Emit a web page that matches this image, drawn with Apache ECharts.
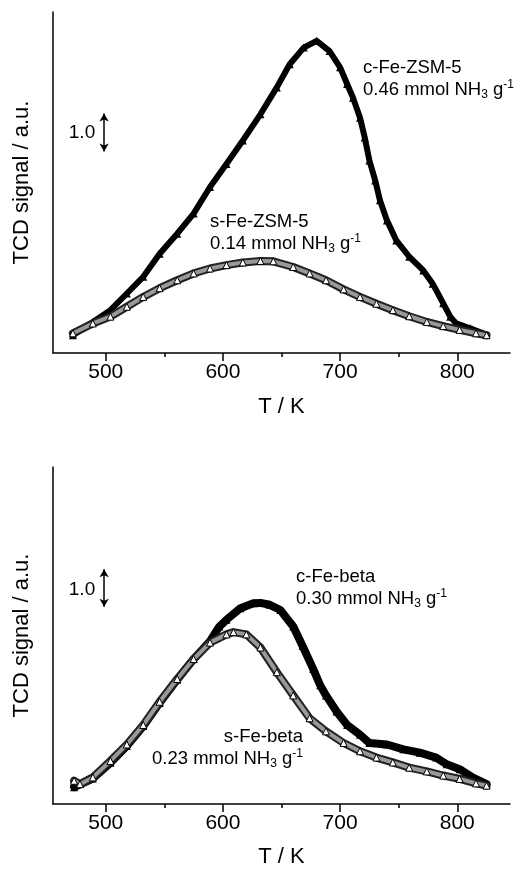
<!DOCTYPE html>
<html>
<head>
<meta charset="utf-8">
<script src="https://cdn.jsdelivr.net/npm/echarts@6/dist/echarts.min.js"></script>
<style>
  html, body { margin: 0; padding: 0; background: #fff; }
  #chart { width: 520px; height: 869px; }
</style>
</head>
<body>
<div id="chart"></div>
<script>
// ---------- data ----------
const xTicks = [500, 600, 700, 800];
const xMinorTicks = [550, 650, 750];

// upper panel: c-Fe-ZSM-5 (filled triangles)
const tZsmC = [472, 489, 504, 518, 532, 546, 561, 575, 589, 603, 617, 632, 646, 657, 669, 680, 691, 700, 706, 711, 717, 721, 725, 730, 734, 740, 748, 759, 771, 779, 788, 794, 799, 811, 822];
const sZsmC = [0.47, 0.82, 1.13, 1.57, 2.01, 2.62, 3.15, 3.68, 4.38, 4.99, 5.61, 6.30, 7.01, 7.62, 8.06, 8.24, 7.97, 7.54, 7.10, 6.74, 6.21, 5.69, 5.08, 4.55, 4.03, 3.50, 2.97, 2.54, 2.18, 1.83, 1.31, 0.96, 0.78, 0.65, 0.52];

// upper panel: s-Fe-ZSM-5 (open triangles)
const tZsmS = [472, 489, 504, 518, 532, 546, 561, 575, 589, 603, 617, 632, 643, 660, 674, 688, 703, 717, 731, 745, 759, 774, 788, 802, 816, 825];
const sZsmS = [0.52, 0.78, 0.96, 1.22, 1.48, 1.71, 1.92, 2.10, 2.23, 2.32, 2.39, 2.43, 2.42, 2.27, 2.10, 1.92, 1.68, 1.48, 1.30, 1.13, 0.97, 0.82, 0.71, 0.61, 0.52, 0.47];

// lower panel: c-Fe-beta (filled triangles)
const tBetaC = [473, 489, 504, 518, 532, 546, 561, 575, 589, 597, 603, 615, 626, 632, 640, 649, 660, 668, 677, 683, 688, 697, 706, 717, 725, 740, 754, 768, 782, 791, 802, 813, 825];
const sBetaC = [0.45, 0.68, 1.10, 1.55, 2.08, 2.70, 3.32, 3.87, 4.35, 4.74, 4.92, 5.23, 5.36, 5.37, 5.32, 5.18, 4.74, 4.22, 3.61, 3.17, 2.90, 2.47, 2.11, 1.85, 1.63, 1.59, 1.46, 1.37, 1.24, 1.06, 0.93, 0.71, 0.53];

// lower panel: s-Fe-beta (open triangles)
const tBetaS = [473, 478, 489, 504, 518, 532, 546, 561, 575, 589, 603, 609, 620, 632, 646, 660, 674, 688, 703, 717, 731, 745, 759, 774, 788, 802, 816, 825];
const sBetaS = [0.62, 0.53, 0.71, 1.15, 1.59, 2.11, 2.73, 3.34, 3.87, 4.31, 4.53, 4.59, 4.53, 4.18, 3.52, 2.90, 2.29, 1.94, 1.63, 1.41, 1.24, 1.11, 0.97, 0.87, 0.76, 0.67, 0.55, 0.49];

// 1.0 a.u. scale bars
const scaleBarT = 498.6;
const scaleBarTop = [5.32, 6.32];
const scaleBarBottom = [5.27, 6.27];

// ---------- chart ----------
const FONT = '"Liberation Sans", Arial, sans-serif';
const zip = (a, b) => a.map((v, i) => [v, b[i]]);

function xAxisMain(gi, gap) {
  return {
    type: 'value', gridIndex: gi, min: 455, max: 845, position: 'bottom',
    axisLine: { show: true, lineStyle: { color: '#000', width: 1.5 } },
    axisTick: { show: true, inside: false, length: 8, customValues: xTicks, lineStyle: { color: '#000', width: 1.5 } },
    axisLabel: { show: true, customValues: xTicks, fontSize: 21, color: '#000', margin: 9, fontFamily: FONT },
    splitLine: { show: false },
    name: 'T / K', nameLocation: 'middle', nameGap: gap,
    nameTextStyle: { fontSize: 22, color: '#000', fontFamily: FONT }
  };
}
function xAxisMinor(gi) {
  return {
    type: 'value', gridIndex: gi, min: 455, max: 845, position: 'bottom',
    axisLine: { show: false },
    axisTick: { show: true, inside: false, length: 4, customValues: xMinorTicks, lineStyle: { color: '#000', width: 1.5 } },
    axisLabel: { show: false },
    splitLine: { show: false }
  };
}
function yAxis(gi) {
  return {
    type: 'value', gridIndex: gi, min: 0, max: 9,
    axisLine: { show: true, lineStyle: { color: '#000', width: 1.5 } },
    axisTick: { show: false }, axisLabel: { show: false }, splitLine: { show: false },
    name: 'TCD signal / a.u.', nameLocation: 'middle', nameGap: 20,
    nameTextStyle: { fontSize: 22, color: '#000', fontFamily: FONT }
  };
}

function filledSeries(xi, data, bar, w) {
  return {
    type: 'line', xAxisIndex: xi, yAxisIndex: xi / 2, data: data,
    smooth: false,
    symbol: 'triangle', symbolSize: 8, showAllSymbol: true,
    itemStyle: { color: '#000' },
    lineStyle: { color: '#000', width: w, join: 'round', cap: 'round' },
    z: 3,
    markLine: {
      silent: true, symbol: ['arrow', 'arrow'], symbolSize: [7, 8],
      label: { show: false },
      lineStyle: { color: '#000', width: 1.5, type: 'solid' },
      data: [[{ coord: [scaleBarT, bar[0]] }, { coord: [scaleBarT, bar[1]] }]]
    }
  };
}
function openSeries(xi, data) {
  return [
    {
      type: 'line', xAxisIndex: xi, yAxisIndex: xi / 2, data: data,
      smooth: false, showSymbol: false,
      lineStyle: { color: '#222', width: 8, join: 'round', cap: 'round' }, z: 4
    },
    {
      type: 'line', xAxisIndex: xi, yAxisIndex: xi / 2, data: data,
      smooth: false,
      symbol: 'triangle', symbolSize: 7, showAllSymbol: true,
      itemStyle: { color: '#fff', borderColor: '#000', borderWidth: 1 },
      lineStyle: { color: '#999', width: 4, join: 'round', cap: 'round' }, z: 5
    }
  ];
}

const rich = {
  a: { fontSize: 18.5, fontFamily: FONT, color: '#000', lineHeight: 22, verticalAlign: 'middle' },
  sub: { fontSize: 12, fontFamily: FONT, color: '#000', lineHeight: 22, verticalAlign: 'bottom' },
  sup: { fontSize: 12, fontFamily: FONT, color: '#000', lineHeight: 22, verticalAlign: 'top' }
};
function label(x, y, name, amount, align) {
  return {
    type: 'text', x: x, y: y, z: 10,
    style: {
      text: '{a|' + name + '}\n{a|' + amount + ' mmol NH}{sub|3}{a| g}{sup|-1}',
      rich: rich, align: align, verticalAlign: 'top'
    }
  };
}
function scaleLabel(y) {
  return {
    type: 'text', x: 82, y: y, z: 10,
    style: { text: '1.0', fontSize: 19, fontFamily: FONT, fill: '#000', align: 'center', verticalAlign: 'middle' }
  };
}

const chart = echarts.init(document.getElementById('chart'), null, { renderer: 'canvas' });
chart.setOption({
  animation: false,
  backgroundColor: '#fff',
  grid: [
    { left: 53, top: 12, width: 457, height: 341 },
    { left: 53, top: 467, width: 457, height: 340 }
  ],
  xAxis: [xAxisMain(0, 43), xAxisMinor(0), xAxisMain(1, 42), xAxisMinor(1)],
  yAxis: [yAxis(0), yAxis(1)],
  series: [
    filledSeries(0, zip(tZsmC, sZsmC), scaleBarTop, 6),
    ...openSeries(0, zip(tZsmS, sZsmS)),
    filledSeries(2, zip(tBetaC, sBetaC), scaleBarBottom, 8),
    ...openSeries(2, zip(tBetaS, sBetaS))
  ],
  graphic: [
    label(363, 57, 'c-Fe-ZSM-5', '0.46', 'left'),
    label(210, 211, 's-Fe-ZSM-5', '0.14', 'left'),
    label(296, 566, 'c-Fe-beta', '0.30', 'left'),
    label(303, 726, 's-Fe-beta', '0.23', 'right'),
    scaleLabel(133),
    scaleLabel(590)
  ]
});
</script>
</body>
</html>
